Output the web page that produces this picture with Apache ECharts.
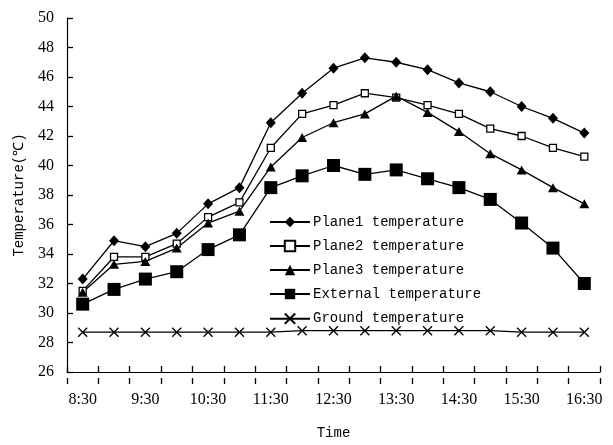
<!DOCTYPE html>
<html>
<head>
<meta charset="utf-8">
<script src="https://cdn.jsdelivr.net/npm/echarts@6/dist/echarts.min.js"></script>
<style>html,body{margin:0;padding:0;background:#fff}#c{width:613px;height:445px}</style>
</head>
<body>
<div id="c"></div>
<script>
var categories = ['8:30','9:00','9:30','10:00','10:30','11:00','11:30','12:00','12:30','13:00','13:30','14:00','14:30','15:00','15:30','16:00','16:30'];
var plane1 = [32.3,34.9,34.5,35.4,37.4,38.5,42.9,44.9,46.6,47.3,47.0,46.5,45.6,45.0,44.0,43.2,42.2];
var plane2 = [31.5,33.8,33.8,34.7,36.5,37.5,41.2,43.5,44.1,44.9,44.6,44.1,43.5,42.5,42.0,41.2,40.6];
var plane3 = [31.4,33.3,33.5,34.4,36.1,36.9,39.9,41.9,42.9,43.5,44.7,43.6,42.3,40.8,39.7,38.5,37.4];
var external = [30.6,31.6,32.3,32.8,34.3,35.3,38.5,39.3,40.0,39.4,39.7,39.1,38.5,37.7,36.1,34.4,32.0];
var ground = [28.7,28.7,28.7,28.7,28.7,28.7,28.7,28.8,28.8,28.8,28.8,28.8,28.8,28.8,28.7,28.7,28.7];
var seriesNames = ['Plane1 temperature','Plane2 temperature','Plane3 temperature','External temperature','Ground temperature'];

var mono = 'Liberation Mono';
var lineStyle = {color:'#000', width:1.3};
var gridH = 445 - 18 - 61;
function mk(name, data, symbol, size, fill){
  return {
    name: name, type: 'line', data: data, symbol: symbol, symbolSize: size,
    showAllSymbol: true, animation: false, xAxisIndex: 0,
    lineStyle: lineStyle,
    itemStyle: {color: fill, borderColor: '#000', borderWidth: fill === '#fff' ? 1.3 : (symbol.indexOf('path') === 0 ? 1.3 : 0)},
    emphasis: {disabled: true}
  };
}
var chart = echarts.init(document.getElementById('c'));
chart.setOption({
  backgroundColor: '#fff',
  animation: false,
  grid: {left: 67, right: 13, top: 18, bottom: 61},
  legend: {
    orient: 'vertical', left: 264, top: 210,
    itemWidth: 40, itemHeight: 13, itemGap: 10,
    textStyle: {fontFamily: mono, fontSize: 14, color: '#000', padding: [0,0,0,-2]},
    data: seriesNames
  },
  xAxis: [{
    type: 'category', data: categories, boundaryGap: true, position: 'bottom',
    name: 'Time', nameLocation: 'middle', nameGap: 54,
    nameTextStyle: {fontFamily: mono, fontSize: 14, color: '#000'},
    axisLine: {show: true, onZero: false, lineStyle: {color: '#000', width: 1.2}},
    axisTick: {show: true, inside: true, length: 6, interval: 0, lineStyle: {color: '#000', width: 1.3}},
    axisLabel: {interval: 1, margin: 20, fontFamily: 'Liberation Serif', fontSize: 16, color: '#000'},
    splitLine: {show: false}
  }, {
    type: 'category', data: categories, boundaryGap: true, position: 'top', offset: -gridH,
    axisLine: {show: false, onZero: false},
    axisTick: {show: true, inside: false, length: 6, interval: 0, lineStyle: {color: '#000', width: 1.3}},
    axisLabel: {show: false},
    splitLine: {show: false}
  }],
  yAxis: {
    type: 'value', min: 26, max: 50, interval: 2,
    name: 'Temperature(℃)', nameLocation: 'middle', nameGap: 41, nameRotate: 90,
    nameTextStyle: {fontFamily: mono, fontSize: 14, color: '#000'},
    axisLine: {show: true, onZero: false, lineStyle: {color: '#000', width: 1.2}},
    axisTick: {show: true, inside: true, length: 6, lineStyle: {color: '#000', width: 1.3}},
    axisLabel: {margin: 13, fontFamily: 'Liberation Serif', fontSize: 16, color: '#000'},
    splitLine: {show: false}
  },
  series: [
    mk(seriesNames[0], plane1, 'diamond', [10,11], '#000'),
    mk(seriesNames[1], plane2, 'rect', 7, '#fff'),
    mk(seriesNames[2], plane3, 'triangle', [10,9], '#000'),
    mk(seriesNames[3], external, 'rect', 13, '#000'),
    mk(seriesNames[4], ground, 'path://M0,0L10,10M10,0L0,10', 9, 'none')
  ]
});
</script>
</body>
</html>
